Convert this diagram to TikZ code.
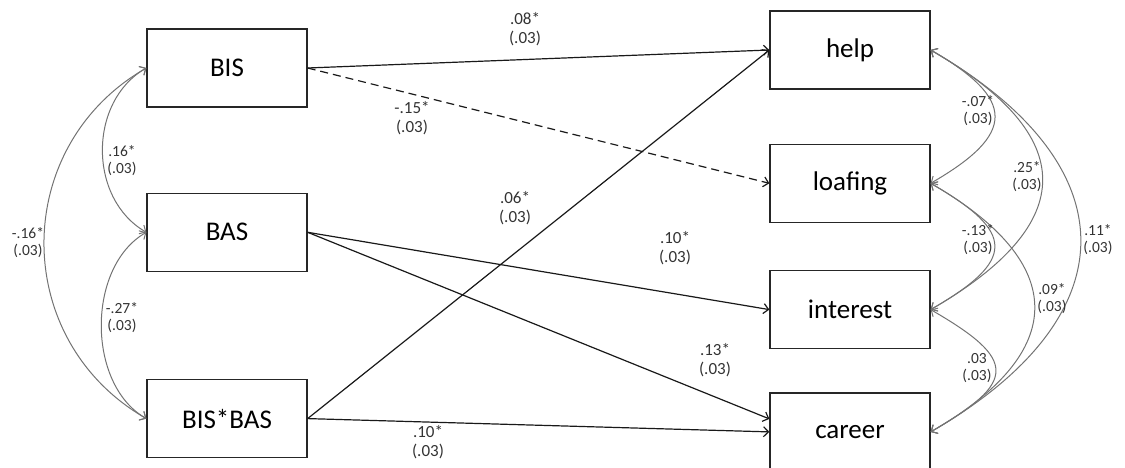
\documentclass[tikz,border=0pt]{standalone}
\usepackage{fontspec}
\setmainfont{Carlito}
\usetikzlibrary{arrows.meta, positioning}

\begin{document}
\begin{tikzpicture}[
  x=1pt, y=1pt,
  var/.style   ={rectangle, draw=black!85, line width=1.3pt, minimum width=160pt, minimum height=78pt, inner sep=0pt, font=\fontsize{27}{30}\selectfont},
  coef/.style  ={font=\fontsize{17}{19}\selectfont, align=center, inner sep=0pt, text=black!80},
  covlab/.style={font=\fontsize{15.5}{17}\selectfont, align=center, inner sep=0pt, text=black!80},
  reg/.style   ={->, black!90, line width=1.2pt},
  cov/.style   ={<->, black!55, line width=1pt},
  >={Straight Barb[length=5pt, width=10pt]}
]
\useasboundingbox (0,0) rectangle (1125,468);

%% Predictors (left column)
\node[var] (BIS) at (227,400) {BIS};
\node[var, below=85pt of BIS]     (BAS)    {BAS};
\node[var, below=107pt of BAS]    (BISBAS) {BIS*BAS};

%% Outcomes (right column)
\node[var] (help) at (850,418) {help};
\node[var, below=54pt of help]     (loafing)  {loafing};
\node[var, below=47pt of loafing]  (interest) {interest};
\node[var, below=43pt of interest] (career)   {career};

%% Regression paths
\draw[reg] (BIS.east) -- (help.west);
\draw[reg, dash pattern=on 8pt off 5pt] (BIS.east) -- (loafing.west);
\draw[reg] (BAS.east) -- (interest.west);
\draw[reg] (BAS.east) -- ([yshift=13pt]career.west);
\draw[reg] (BISBAS.east) -- (help.west);
\draw[reg] (BISBAS.east) -- (career.west);

%% Path coefficients
\node[coef] (c08)  at (525,439) {.08*\\(.03)};
\node[coef] (c15)  at (412,350) {-.15*\\(.03)};
\node[coef] (c06)  at (515,260) {.06*\\(.03)};
\node[coef] (c10a) at (675,220) {.10*\\(.03)};
\node[coef] (c13)  at (715,108) {.13*\\(.03)};
\node[coef] (c10b) at (428,26)  {.10*\\(.03)};

%% Covariances among predictors
\draw[cov] (BIS.west) to[bend right=60, looseness=1.05] (BAS.west);
\draw[cov] (BAS.west) to[bend right=60, looseness=0.95] (BISBAS.west);
\draw[cov] (BIS.west) to[bend right=60, looseness=1.15] (BISBAS.west);
\node[covlab] (k16)  at (122,307) {.16*\\(.03)};
\node[covlab] (k27)  at (122,150) {-.27*\\(.03)};
\node[covlab] (k16b) at (28,225)  {-.16*\\(.03)};

%% Residual covariances among outcomes
\foreach \a/\b/\l in {help/loafing/1.9, help/interest/1.7, help/career/1.55,
                      loafing/interest/2.0, loafing/career/1.65, interest/career/2.1}{
  \draw[cov] (\a.east) to[bend left=60, looseness=\l] (\b.east);
}
\node[covlab] (k07) at (978,357)  {-.07*\\(.03)};
\node[covlab] (k25) at (1027,291) {.25*\\(.03)};
\node[covlab] (k13) at (978,228)  {-.13*\\(.03)};
\node[covlab] (k11) at (1098,228) {.11*\\(.03)};
\node[covlab] (k09) at (1052,169) {.09*\\(.03)};
\node[covlab] (k03) at (977,100)  {.03\\(.03)};

\end{tikzpicture}
\end{document}
